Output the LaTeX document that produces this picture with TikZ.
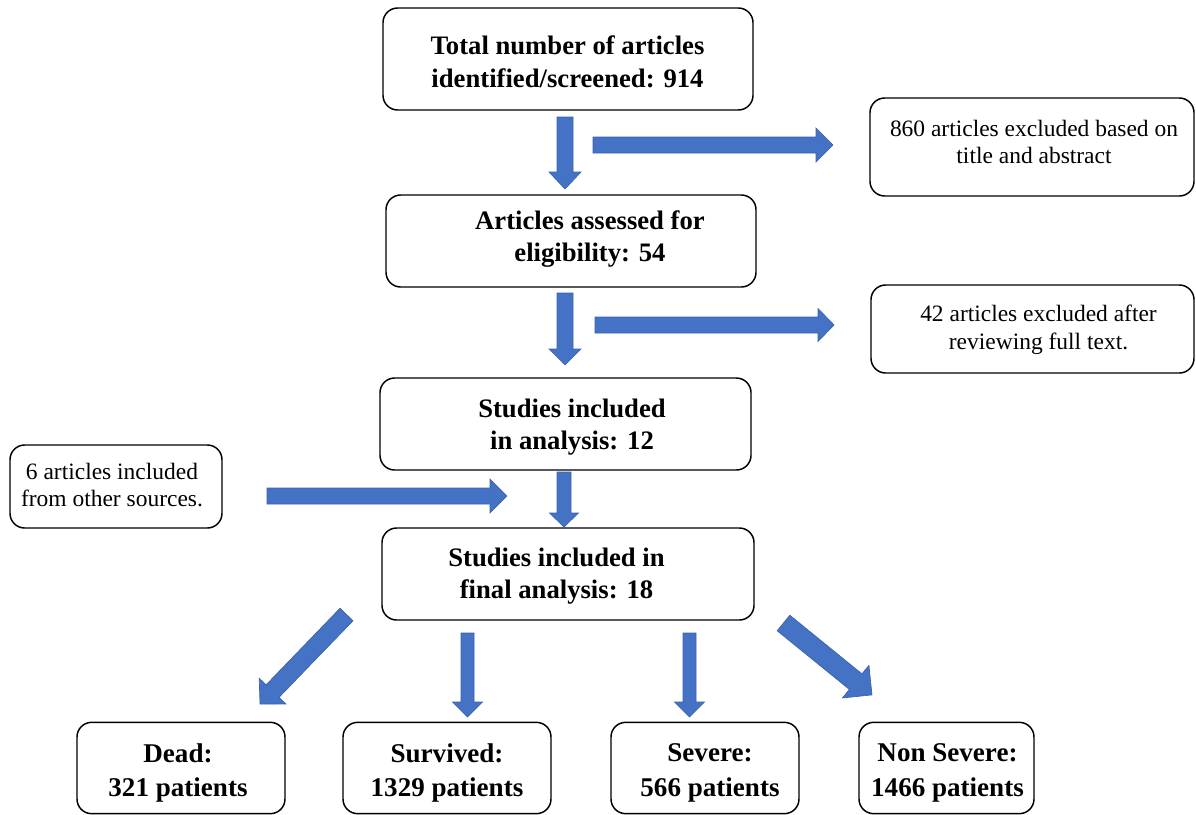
\documentclass[tikz,border=0pt]{standalone}
\usepackage{fontspec}
\setmainfont{Liberation Serif}
\definecolor{arrowblue}{HTML}{4472C4}
\definecolor{arrowedge}{HTML}{3A62AC}
\newcommand{\blockarrow}[7]{%
  \begin{scope}[shift={(#1,#2)},rotate=#3]
    \filldraw[barrow] (0,-#5/2) -- ({#4-#7},-#5/2) -- ({#4-#7},-#6/2) -- (#4,0)
      -- ({#4-#7},#6/2) -- ({#4-#7},#5/2) -- (0,#5/2) -- cycle;
  \end{scope}}
\tikzset{
  box/.style={draw=black, line width=1.1pt, rounded corners=11pt, inner sep=0pt},
  bigtxt/.style={font=\fontsize{20}{24.5}\selectfont\bfseries, align=center, inner sep=0pt},
  bottxt/.style={font=\fontsize{20.3}{26}\selectfont\bfseries, align=center, inner sep=0pt},
  smalltxt/.style={font=\fontsize{17.6}{20.8}\selectfont, align=center, inner sep=0pt},
  barrow/.style={fill=arrowblue, draw=arrowedge, line width=0.5pt, line join=miter}
}
\begin{document}
\begin{tikzpicture}[x=0.75pt, y=-0.75pt]
\useasboundingbox (0,0) rectangle (1196,814);
% boxes
\node[box, minimum width=277.5pt, minimum height=76.5pt] (b1) at (568,59) {};
\node[box, minimum width=243pt, minimum height=73.5pt] (r1) at (1032,147) {};
\node[box, minimum width=277.5pt, minimum height=69pt] (b3) at (571,241) {};
\node[box, minimum width=242.25pt, minimum height=66pt] (r2) at (1032.5,329) {};
\node[box, minimum width=278.25pt, minimum height=69pt] (b5) at (565.5,424) {};
\node[box, minimum width=159pt, minimum height=62.25pt] (l1) at (116,486.5) {};
\node[box, minimum width=279pt, minimum height=69pt] (b7) at (568,574) {};
\node[box, minimum width=156pt, minimum height=68.5pt] (dead) at (181,768) {};
\node[box, minimum width=156pt, minimum height=68.5pt] (surv) at (447,768) {};
\node[box, minimum width=141pt, minimum height=68.5pt] (sev) at (705,768) {};
\node[box, minimum width=131.25pt, minimum height=68.5pt] (nons) at (946.5,768) {};
% texts
\node[bigtxt] (b1t) at (567.5,62) {Total number of articles\\identified/screened: 914};
\node[smalltxt] (r1t) at (1034,142) {860 articles excluded based on\\title and abstract};
\node[bigtxt] (b3t) at (590,239) {Articles assessed for\\eligibility: 54};
\node[smalltxt] (r2t) at (1038.5,329.5) {42 articles excluded after\\reviewing full text.};
\node[bigtxt] (b5t) at (572,427) {Studies included\\in analysis: 12};
\node[smalltxt] (l1t) at (112,485) {6 articles included\\from other sources.};
\node[bigtxt] (b7t) at (556.5,576) {Studies included in\\final analysis: 18};
\node[bottxt] (deadt) at (178,773) {Dead:\\321 patients};
\node[bottxt] (survt) at (447,773) {Survived:\\1329 patients};
\node[bottxt] (sevt) at (710,773) {Severe:\\566 patients};
\node[bottxt] (nonst) at (947.5,773) {Non Severe:\\1466 patients};
% block arrows: x, y, angle, length, shaft width, head width, head length
\blockarrow{565}{117}{-90}{72}{16}{32}{17}
\blockarrow{593}{145}{0}{240}{16}{34}{17}
\blockarrow{565}{293}{-90}{72}{16}{32}{16}
\blockarrow{595}{325}{0}{239}{16}{33}{16}
\blockarrow{564}{472}{-90}{55}{14}{29}{14}
\blockarrow{267}{496}{0}{240}{16}{34}{17}
\blockarrow{467.5}{633}{-90}{84}{13}{30}{15}
\blockarrow{689.5}{633}{-90}{84}{13}{30}{15}
\blockarrow{346.5}{614.5}{-134}{124.5}{18}{37}{18}
\blockarrow{783.5}{623}{-39.1}{114}{20}{42}{21}
\end{tikzpicture}
\end{document}
